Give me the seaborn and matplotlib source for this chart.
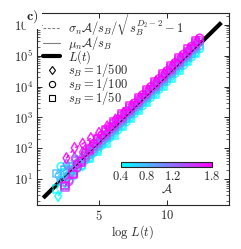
import numpy as np
import pandas as pd
import matplotlib
matplotlib.use("Agg")
import matplotlib.pyplot as plt
import seaborn as sns
from matplotlib.lines import Line2D
from matplotlib.ticker import LogLocator, FixedLocator, FuncFormatter, NullFormatter

# ---------------- data (log10 of y) ----------------
A_levels = [0.4, 0.75, 1.1, 1.45, 1.8]
sB_labels = ["1/500", "1/100", "1/50"]

x_d = [2.0, 2.6, 3.2, 3.8, 4.4, 5.0, 5.6, 6.2, 6.8, 7.4, 8.0, 8.6, 9.2, 9.8, 10.4, 11.0, 11.6, 12.2]
x_c = [2.2, 2.8, 3.4, 4.0, 4.6, 5.2, 5.8, 6.4, 7.0, 7.6, 8.2, 8.8, 9.4, 10.0, 10.6, 11.2, 11.8, 12.4]
x_s = [1.9, 2.5, 3.1, 3.7, 4.3, 4.9, 5.5, 6.1, 6.7, 7.3, 7.9, 8.5, 9.1, 9.7, 10.3, 10.9, 11.5, 12.1]
nan = np.nan

logy_d = {
    0.4:  [0.45, 0.83, 1.15, 1.45, 1.72, 1.99, 2.25, 2.52, 2.78, 3.04, 3.31, 3.57, 3.84, 4.10, 4.37, 4.63, 4.89, 5.15],
    0.75: [1.12, 1.23, 1.37, 1.58, 1.83, 2.09, 2.35, 2.61, 2.88, 3.14, 3.40, 3.66, 3.94, 4.20, 4.46, 4.72, 4.99, 5.25],
    1.1:  [nan, 1.48, 1.61, 1.75, 1.94, 2.18, 2.43, 2.69, 2.95, 3.22, 3.48, 3.74, 4.02, 4.28, 4.54, 4.80, 5.07, 5.33],
    1.45: [nan, nan, 1.69, 1.87, 2.06, 2.27, 2.51, 2.76, 3.02, 3.28, 3.54, 3.81, 4.08, 4.34, 4.60, 4.87, 5.13, 5.39],
    1.8:  [nan, 1.68, 2.01, 2.15, 2.33, 2.50, 2.71, 2.93, 3.15, 3.39, 3.64, 3.89, 4.16, 4.42, 4.69, 4.95, 5.22, 5.48],
}
logy_c = {
    0.4:  [1.41, 1.42, 1.48, 1.64, 1.86, 2.10, 2.35, 2.60, 2.86, 3.12, 3.38, 3.65, 3.91, 4.17, 4.43, 4.69, 4.96, 5.23],
    0.75: [0.96, 1.12, 1.36, 1.62, 1.89, 2.16, 2.42, 2.69, 2.95, 3.21, 3.48, 3.74, 4.00, 4.26, 4.53, 4.79, 5.05, 5.32],
    1.1:  [nan, 0.97, 1.36, 1.69, 1.98, 2.25, 2.52, 2.79, 3.06, 3.32, 3.59, 3.85, 4.11, 4.38, 4.64, 4.90, 5.17, 5.44],
    1.45: [nan, 0.92, 1.38, 1.76, 2.06, 2.34, 2.61, 2.88, 3.14, 3.40, 3.66, 3.92, 4.19, 4.45, 4.71, 4.97, 5.24, 5.51],
    1.8:  [nan, nan, 1.48, 1.86, 2.16, 2.43, 2.69, 2.95, 3.21, 3.47, 3.74, 4.00, 4.26, 4.52, 4.78, 5.05, 5.31, 5.58],
}
logy_s = {
    0.4:  [0.68, 1.19, 1.30, 1.46, 1.67, 1.92, 2.18, 2.44, 2.71, 2.97, 3.23, 3.50, 3.76, 4.02, 4.29, 4.55, 4.81, 5.09],
    0.75: [1.18, 1.29, 1.40, 1.58, 1.82, 2.08, 2.35, 2.61, 2.87, 3.14, 3.40, 3.66, 3.92, 4.19, 4.45, 4.71, 4.97, 5.25],
    1.1:  [nan, 0.89, 1.27, 1.61, 1.91, 2.18, 2.44, 2.71, 2.97, 3.23, 3.49, 3.75, 4.02, 4.28, 4.54, 4.80, 5.07, 5.34],
    1.45: [nan, 0.74, 1.20, 1.61, 1.95, 2.25, 2.52, 2.78, 3.04, 3.30, 3.57, 3.83, 4.09, 4.35, 4.61, 4.88, 5.14, 5.41],
    1.8:  [nan, 0.79, 1.15, 1.56, 1.97, 2.31, 2.59, 2.86, 3.12, 3.38, 3.64, 3.90, 4.16, 4.43, 4.69, 4.95, 5.22, 5.49],
}

L_x = [0.9, 14.0]
L_y = [2.46, 1.2e6]

cbar_ticks = [0.4, 0.8, 1.2, 1.8]
y_ticks = [1e1, 1e2, 1e3, 1e4, 1e5, 1e6]
x_ticks = [5, 10]

# ---------------- build table ----------------
rows = []
for sb, xs, ld in [("1/500", x_d, logy_d), ("1/100", x_c, logy_c), ("1/50", x_s, logy_s)]:
    for A in A_levels:
        for xv, ly in zip(xs, ld[A]):
            if not np.isnan(ly):
                rows.append(dict(x=xv, y=10 ** ly, A=A, sB=sb, series=f"{sb}_{A}"))
df = pd.DataFrame(rows)

# ---------------- style ----------------
sns.set_style("ticks")
plt.rcParams.update({
    "font.family": ["DejaVu Serif"],
    "mathtext.fontset": "cm",
    "font.size": 8,
    "axes.linewidth": 0.8,
    "xtick.direction": "in",
    "ytick.direction": "in",
    "xtick.top": True,
    "ytick.right": True,
})

fig = plt.figure(figsize=(2.41, 2.49), dpi=100)
ax = fig.add_axes([37 / 241, 1 - 205 / 249, (229 - 37) / 241, (205 - 13) / 249])

cmap = "cool"
norm = (0.4, 1.8)

# thick L(t)
ax.plot(L_x, L_y, color="black", lw=3.0, zorder=1, solid_capstyle="butt")

markers = {"1/500": "d", "1/100": "o", "1/50": "s"}
dashes = {"1/500": (3, 2), "1/100": "", "1/50": ""}

sns.lineplot(data=df, x="x", y="y", hue="A", palette=cmap, hue_norm=norm,
             style="sB", dashes=dashes, units="series", estimator=None,
             sort=False, lw=1.0, legend=False, ax=ax, zorder=2)

n_before = len(ax.collections)
df_sorted = df.sort_values("A", kind="stable")
for A in A_levels:
    sub = df_sorted[df_sorted["A"] == A]
    sns.scatterplot(data=sub, x="x", y="y", hue="A", palette=cmap, hue_norm=norm,
                    style="sB", markers=markers, s=30, legend=False, ax=ax,
                    linewidth=1.1, zorder=3)
for coll in ax.collections[n_before:]:
    fc = coll.get_facecolors()
    coll.set_edgecolors(fc)
    coll.set_facecolors("none")
    coll.set_alpha(0.85)

# thin dashed L(t) on top
ax.plot(L_x, L_y, color="black", lw=0.6, ls=(0, (3, 2)), zorder=4)

ax.set_yscale("log")
ax.set_xlim(0.44, 14.56)
ax.set_ylim(10 ** 0.16, 10 ** 6.39)
ax.xaxis.set_major_locator(FixedLocator(x_ticks))
ax.xaxis.set_major_formatter(FuncFormatter(lambda v, p: r"$%d$" % v))
ax.yaxis.set_major_locator(FixedLocator(y_ticks))
ax.yaxis.set_major_formatter(FuncFormatter(lambda v, p: r"$10^{%d}$" % round(np.log10(v))))
ax.yaxis.set_minor_locator(LogLocator(base=10, subs=np.arange(2, 10), numticks=20))
ax.yaxis.set_minor_formatter(NullFormatter())
ax.tick_params(which="major", length=3.5, width=0.7, labelsize=9, pad=3)
ax.tick_params(which="minor", length=2, width=0.5)
ax.set_xlabel(r"$\log\,L(t)$", fontsize=9, labelpad=0)
ax.set_ylabel("")

# legend
handles = [
    Line2D([], [], color="gray", lw=0.8, ls=(0, (2.5, 1.5))),
    Line2D([], [], color="gray", lw=0.8),
    Line2D([], [], color="black", lw=3),
    Line2D([], [], color="black", marker="d", ls="none", mfc="none", ms=4.5, mew=0.8),
    Line2D([], [], color="black", marker="o", ls="none", mfc="none", ms=4.5, mew=0.8),
    Line2D([], [], color="black", marker="s", ls="none", mfc="none", ms=4.5, mew=0.8),
]
labels = [
    r"$\sigma_n\mathcal{A}/s_B/\sqrt{s_B^{D_2-2}-1}$",
    r"$\mu_n\mathcal{A}/s_B$",
    r"$L(t)$",
    r"$s_B=1/500$",
    r"$s_B=1/100$",
    r"$s_B=1/50$",
]
leg = ax.legend(handles, labels, loc="upper left", bbox_to_anchor=(0.006, 1.035),
                frameon=False, fontsize=9, handlelength=1.35, handletextpad=0.6,
                labelspacing=-0.33, borderaxespad=0.0)
leg.set_zorder(5)

# colorbar inset
cax = ax.inset_axes([(121 - 37) / 192, (205 - 167) / 192, (212 - 121) / 192, 5 / 192])
sm = plt.cm.ScalarMappable(cmap=cmap, norm=plt.Normalize(*norm))
cb = fig.colorbar(sm, cax=cax, orientation="horizontal", ticks=cbar_ticks)
cb.ax.set_xticklabels(["$0.4$", "$0.8$", "$1.2$", "$1.8$"])
cb.ax.tick_params(direction="in", length=3.5, width=0.7, labelsize=9, pad=2, top=False)
cb.outline.set_linewidth(0.8)
cb.set_label(r"$\mathcal{A}$", fontsize=9, labelpad=0)

fig.text(26 / 241, 1 - 17 / 249, r"$\mathbf{c)}$", fontsize=10, va="center", ha="left",
         bbox=dict(facecolor="white", edgecolor="none", pad=2.5), zorder=10)

fig.savefig("out.png", dpi=100)
